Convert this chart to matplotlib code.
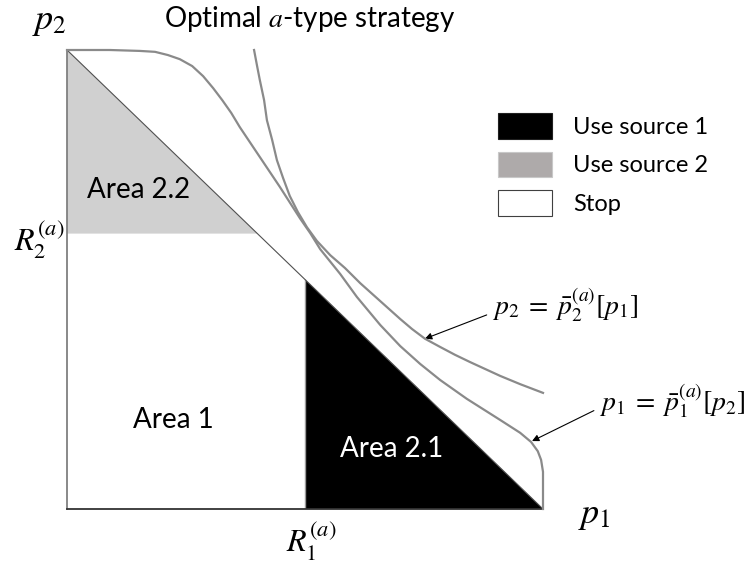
import matplotlib
matplotlib.use('Agg')
import matplotlib.pyplot as plt
from matplotlib.patches import Polygon, Patch

# thresholds for the a-type strategy
R1 = 0.50
R2 = 0.60

# p1 = pbar_1(a)[p2] boundary, as (p1, p2) pairs
curve1_p1 = [0.000, 0.090, 0.153, 0.185, 0.212, 0.237, 0.263, 0.286, 0.307, 0.326,
             0.345, 0.363, 0.405, 0.447, 0.489, 0.511, 0.532, 0.574, 0.609, 0.658,
             0.700, 0.742, 0.784, 0.840, 0.910, 0.952, 0.975, 0.989, 0.996, 1.000,
             1.000]
curve1_p2 = [1.000, 1.000, 0.998, 0.996, 0.989, 0.980, 0.965, 0.943, 0.917, 0.891,
             0.863, 0.832, 0.767, 0.702, 0.634, 0.601, 0.566, 0.512, 0.462, 0.401,
             0.355, 0.316, 0.281, 0.240, 0.194, 0.166, 0.146, 0.126, 0.107, 0.081,
             0.000]

# p2 = pbar_2(a)[p1] boundary
curve2_p1 = [0.393, 0.399, 0.405, 0.414, 0.420, 0.431, 0.441, 0.454, 0.468, 0.485,
             0.504, 0.525, 0.553, 0.584, 0.616, 0.658, 0.700, 0.725, 0.752, 0.784,
             0.815, 0.847, 0.910, 0.952, 1.000]
curve2_p2 = [1.000, 0.967, 0.935, 0.891, 0.847, 0.804, 0.760, 0.721, 0.682, 0.647,
             0.614, 0.584, 0.553, 0.525, 0.492, 0.453, 0.414, 0.392, 0.371, 0.353,
             0.336, 0.320, 0.290, 0.272, 0.253]

legend_labels = ['Use source 1', 'Use source 2', 'Stop']
legend_colors = ['#000000', '#AEAAAA', '#FFFFFF']
legend_edges = ['#202020', '#C8C8C8', '#404040']
area_labels = ['Area 2.2', 'Area 1', 'Area 2.1']

FONT = 'Lato'
plt.rcParams['mathtext.fontset'] = 'stix'

fig = plt.figure(figsize=(7.48, 5.62), dpi=100)
ax = fig.add_axes([67 / 748, 53 / 562, 476 / 748, 459 / 562])
ax.set_xlim(0, 1)
ax.set_ylim(0, 1)
ax.axis('off')

# decision regions
ax.add_patch(Polygon([(0, R2), (0, 1), (1 - R2, R2)], closed=True,
                     facecolor='#D0D0D0', edgecolor='none', zorder=1))
ax.add_patch(Polygon([(R1, 0), (1, 0), (R1, 1 - R1)], closed=True,
                     facecolor='#000000', edgecolor='none', zorder=1))
ax.plot([R1, R1], [0, 1 - R1], color='#9A9A9A', lw=1.0, zorder=2)

# simplex edges
ax.plot([0, 1], [1, 0], color='#505050', lw=0.8, zorder=2, clip_on=False)
ax.plot([0, 0], [0, 1], color='#808080', lw=1.3, zorder=3, clip_on=False)
ax.plot([0, 1], [0, 0], color='#333333', lw=1.3, zorder=3, clip_on=False)

# threshold curves
ax.plot(curve1_p1, curve1_p2, color='#8A8A8A', lw=1.6, zorder=4, clip_on=False,
        solid_joinstyle='round')
ax.plot(curve2_p1, curve2_p2, color='#8A8A8A', lw=1.6, zorder=4, clip_on=False,
        solid_joinstyle='round')

# axis names and thresholds
ax.text(-0.036, 1.064, r'$p_2$', fontsize=26, ha='center', va='center')
ax.text(1.109, -0.012, r'$p_1$', fontsize=26, ha='center', va='center')
ax.text(-0.006, R2 - 0.012, r'$R_2^{(a)}$', fontsize=23, ha='right', va='center')
ax.text(R1 + 0.013, -0.069, r'$R_1^{(a)}$', fontsize=23, ha='center', va='center')
ax.text(0.51, 1.068, r'Optimal $a$-type strategy', fontsize=20, family=FONT,
        ha='center', va='center')

ax.text(0.151, 0.695, area_labels[0], fontsize=20, family=FONT, ha='center', va='center')
ax.text(0.223, 0.194, area_labels[1], fontsize=20, family=FONT, ha='center', va='center')
ax.text(0.681, 0.131, area_labels[2], fontsize=20, family=FONT, color='white',
        ha='center', va='center')

# curve annotations
arrow = dict(arrowstyle='-|>', color='black', lw=0.8, mutation_scale=10,
             shrinkA=2, shrinkB=0, relpos=(0.0, 0.3))
ax.annotate(r'$p_2\;=\;\bar{p}_2^{(a)}[p_1]$', xy=(0.752, 0.371), xytext=(0.893, 0.444),
            fontsize=20, ha='left', va='center', annotation_clip=False, arrowprops=arrow)
ax.annotate(r'$p_1\;=\;\bar{p}_1^{(a)}[p_2]$', xy=(0.977, 0.148), xytext=(1.118, 0.237),
            fontsize=20, ha='left', va='center', annotation_clip=False, arrowprops=arrow)

# legend
handles = [Patch(facecolor=c, edgecolor=e, lw=0.8)
           for c, e in zip(legend_colors, legend_edges)]
fig.legend(handles, legend_labels, loc='upper left',
           bbox_to_anchor=(498 / 748, 1 - 113 / 562), bbox_transform=fig.transFigure,
           frameon=False, prop={'family': FONT, 'size': 17},
           handlelength=2.29, handleheight=1.3, handletextpad=0.9,
           labelspacing=0.55, borderpad=0, borderaxespad=0)

fig.savefig('out.png', dpi=100)
